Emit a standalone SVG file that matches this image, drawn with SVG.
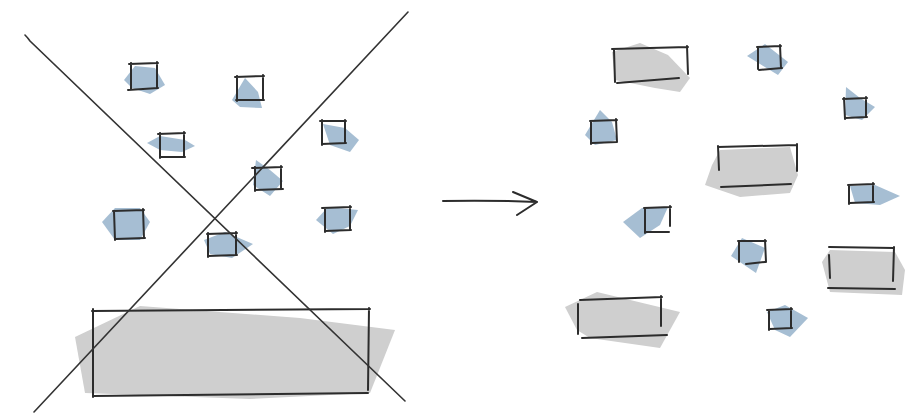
<svg xmlns="http://www.w3.org/2000/svg" width="918" height="418" viewBox="0 0 918 418">
<style>
.o{fill:none;stroke:#2c2c2c;stroke-width:2;stroke-linecap:round;stroke-linejoin:round}
.x{fill:none;stroke:#333;stroke-width:1.6;stroke-linecap:round}
.b{fill:#a6bed3}
.g{fill:#cfcfcf}
</style>
<rect width="918" height="418" fill="#fff"/>
<g id="big-rect">
<polygon class="g" points="75,337 140,306 300,318 395,330 370,393 250,399 85,393"/>
<path class="o" d="M92,311 L370,309 M369,308 L368,390 M368,393 L93,396 M93,397 L93,309"/>
</g>
<g id="box-a"><polygon class="b" points="124,80 135,66 155,68 165,85 150,94 132,88"/><path class="o" d="M129,64 L158,63 M157,62 L157,88 M158,88 L128,90 M131,89 L131,63"/></g>
<g id="box-b"><polygon class="b" points="232,100 245,78 258,92 262,108 240,107"/><path class="o" d="M235,77 L264,76 M263,75 L263,100 M264,100 L236,100 M237,101 L237,76"/></g>
<g id="box-c"><polygon class="b" points="147,143 160,136 185,140 195,146 182,152 160,150"/><path class="o" d="M158,134 L185,133 M184,132 L184,156 M185,157 L160,157 M160,158 L160,133"/></g>
<g id="box-d"><polygon class="b" points="323,124 345,128 359,140 350,152 330,145"/><path class="o" d="M320,121 L346,121 M345,120 L345,143 M346,143 L322,144 M322,145 L322,120"/></g>
<g id="box-e"><polygon class="b" points="256,160 270,170 283,181 270,196 253,185"/><path class="o" d="M252,168 L282,167 M281,166 L281,189 M283,189 L255,190 M255,191 L255,167"/></g>
<g id="box-f"><polygon class="b" points="102,222 115,208 140,208 150,222 140,240 115,240"/><path class="o" d="M113,211 L144,210 M143,209 L144,238 M145,238 L115,239 M115,240 L114,211"/></g>
<g id="box-g"><polygon class="b" points="204,240 225,232 253,244 232,258 210,254"/><path class="o" d="M207,234 L237,233 M236,232 L236,255 M237,255 L208,256 M208,257 L208,233"/></g>
<g id="box-h"><polygon class="b" points="316,220 328,207 358,210 350,226 333,234"/><path class="o" d="M322,208 L351,207 M350,206 L350,230 M351,230 L325,231 M325,232 L325,208"/></g>
<g id="cross">
<path class="x" d="M25,35 Q28,38 30,41 L405,401"/>
<path class="x" d="M408,12 L34,412"/>
</g>
<g id="rect-r1"><polygon class="g" points="612,52 640,43 668,55 690,78 680,92 655,88 615,80"/><path class="o" d="M612,49 L688,47 M687,46 L688,74 M679,78 L617,83 M615,82 L614,50"/></g>
<g id="box-s1"><polygon class="b" points="747,56 765,44 788,62 778,75 760,64"/><path class="o" d="M757,47 L781,46 M780,45 L781,68 M782,68 L759,70 M758,69 L758,47"/></g>
<g id="box-s2"><polygon class="b" points="846,87 860,98 875,107 862,120 845,115"/><path class="o" d="M843,99 L867,98 M866,97 L866,117 M867,117 L845,118 M845,119 L844,98"/></g>
<g id="box-s3"><polygon class="b" points="585,135 600,110 612,122 617,140 595,145"/><path class="o" d="M590,121 L617,120 M616,119 L617,142 M617,142 L592,143 M591,144 L591,121"/></g>
<g id="rect-r2"><polygon class="g" points="720,150 790,147 798,175 790,193 740,197 705,185 712,165"/><path class="o" d="M718,147 L797,145 M797,144 L797,171 M791,184 L721,187 M719,170 L718,146"/></g>
<g id="box-s4"><polygon class="b" points="850,186 875,185 900,196 880,205 855,203"/><path class="o" d="M848,185 L874,184 M873,183 L873,202 M874,202 L850,203 M849,204 L849,185"/></g>
<g id="box-s5"><polygon class="b" points="623,222 642,208 668,207 660,225 640,238"/><path class="o" d="M644,208 L671,207 M670,206 L670,226 M669,232 L646,232 M645,233 L645,208"/></g>
<g id="box-s6"><polygon class="b" points="731,256 742,238 765,248 756,273"/><path class="o" d="M738,241 L766,241 M765,240 L766,262 M765,262 L746,264 M739,262 L739,242"/></g>
<g id="rect-r3"><polygon class="g" points="822,262 830,250 895,252 905,270 902,295 830,292"/><path class="o" d="M829,247 L894,248 M894,247 L893,281 M895,289 L828,288 M830,278 L829,255"/></g>
<g id="rect-r4"><polygon class="g" points="565,307 597,292 680,312 660,348 590,338 577,330"/><path class="o" d="M580,300 L662,297 M661,296 L661,326 M667,335 L582,338 M578,334 L578,304"/></g>
<g id="box-s7"><polygon class="b" points="767,312 785,305 808,318 790,337 775,330"/><path class="o" d="M767,310 L792,309 M791,308 L791,327 M792,328 L770,329 M769,330 L769,310"/></g>
<g id="connectors">
<path class="o" d="M443,201 Q490,200 537,202 M513,192 L537,202 L517,215" stroke-width="2.2"/>
</g>
</svg>
